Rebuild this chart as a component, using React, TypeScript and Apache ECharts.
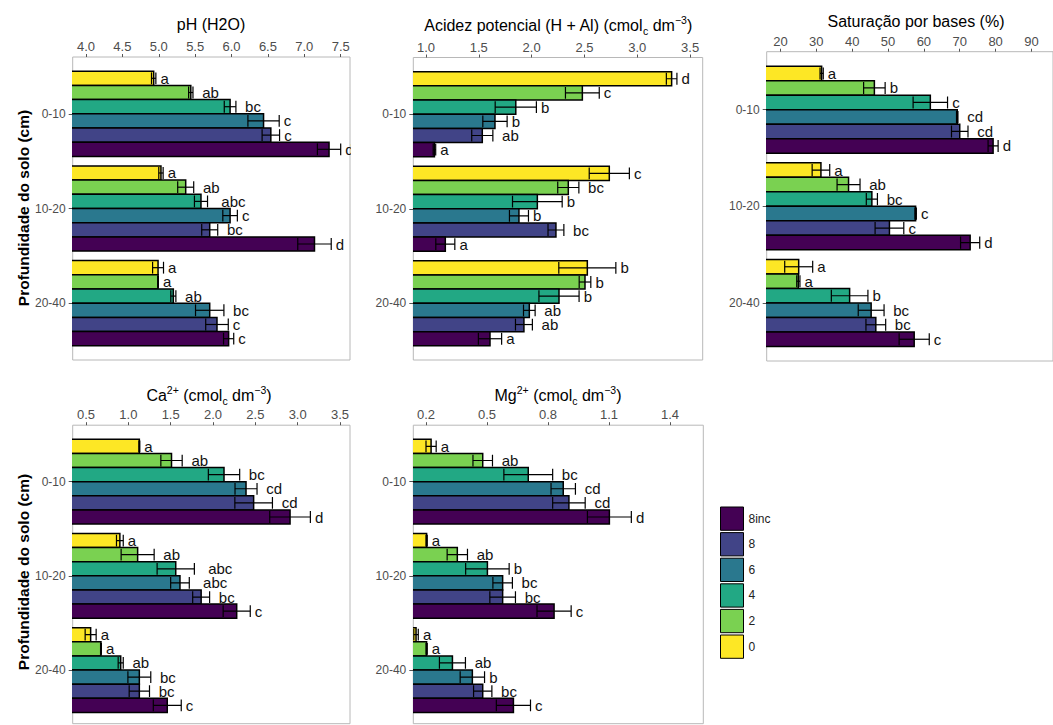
import React, { useEffect, useRef } from 'react';
import * as echarts from 'echarts';

const FONT = '"Liberation Sans", Arial, Helvetica, sans-serif';

// Soil depth layers (rows) and lime treatments (columns, top to bottom inside a group)
const DEPTHS = ['0-10', '10-20', '20-40'];
const TREATMENTS = ['0', '2', '4', '6', '8', '8inc'];
const TREATMENT_COLORS = ['#FDE725', '#7AD151', '#22A884', '#2A788E', '#414487', '#440154'];
const LEGEND_ORDER = ['8inc', '8', '6', '4', '2', '0'];

// pH (H2O)
const phMean = [
  [4.93, 5.44, 5.98, 6.44, 6.54, 7.34],
  [5.03, 5.37, 5.58, 5.98, 5.70, 7.14],
  [4.99, 4.99, 5.20, 5.70, 5.80, 5.96],
];
const phSe = [
  [0.03, 0.03, 0.08, 0.215, 0.12, 0.16],
  [0.03, 0.11, 0.09, 0.10, 0.11, 0.23],
  [0.075, 0.005, 0.035, 0.195, 0.155, 0.07],
];
const phLetters = [
  ['a', 'ab', 'bc', 'c', 'c', 'd'],
  ['a', 'ab', 'abc', 'c', 'bc', 'd'],
  ['a', 'a', 'ab', 'bc', 'c', 'c'],
];
const phTicks = [4.0, 4.5, 5.0, 5.5, 6.0, 6.5, 7.0, 7.5];

// Acidez potencial (H + Al), cmolc dm-3
const halMean = [
  [3.325, 2.48, 1.85, 1.653, 1.533, 1.08],
  [2.735, 2.347, 2.054, 1.88, 2.23, 1.183],
  [2.527, 2.505, 2.259, 1.978, 1.927, 1.606],
];
const halSe = [
  [0.05, 0.16, 0.195, 0.115, 0.1, 0.012],
  [0.19, 0.1, 0.235, 0.09, 0.075, 0.09],
  [0.27, 0.055, 0.19, 0.055, 0.08, 0.11],
];
const halLetters = [
  ['d', 'c', 'b', 'b', 'ab', 'a'],
  ['c', 'bc', 'b', 'b', 'bc', 'a'],
  ['b', 'b', 'b', 'ab', 'ab', 'a'],
];
const halTicks = [1.0, 1.5, 2.0, 2.5, 3.0, 3.5];

// Saturação por bases (%)
const vMean = [
  [31.5, 46.2, 61.8, 69.3, 70.0, 79.3],
  [31.3, 39.0, 45.5, 57.7, 50.4, 72.9],
  [25.1, 25.0, 39.3, 45.3, 46.6, 57.3],
];
const vSe = [
  [0.45, 3.0, 4.8, 0.2, 2.3, 1.4],
  [2.45, 3.2, 1.55, 0.2, 4.0, 2.67],
  [3.9, 0.45, 5.1, 3.6, 2.75, 4.2],
];
const vLetters = [
  ['a', 'b', 'c', 'cd', 'cd', 'd'],
  ['a', 'ab', 'bc', 'c', 'c', 'd'],
  ['a', 'a', 'b', 'bc', 'bc', 'c'],
];
const vTicks = [20, 30, 40, 50, 60, 70, 80, 90];

// Ca2+, cmolc dm-3
const caMean = [
  [1.13, 1.51, 2.13, 2.39, 2.48, 2.91],
  [0.90, 1.11, 1.56, 1.61, 1.86, 2.28],
  [0.555, 0.677, 0.91, 1.13, 1.13, 1.46],
];
const caSe = [
  [0.005, 0.126, 0.185, 0.13, 0.222, 0.24],
  [0.04, 0.195, 0.22, 0.11, 0.1, 0.16],
  [0.065, 0.005, 0.03, 0.135, 0.12, 0.165],
];
const caLetters = [
  ['a', 'ab', 'bc', 'cd', 'cd', 'd'],
  ['a', 'ab', 'abc', 'abc', 'bc', 'c'],
  ['a', 'a', 'ab', 'bc', 'bc', 'c'],
];
const caTicks = [0.5, 1.0, 1.5, 2.0, 2.5, 3.0, 3.5];

// Mg2+, cmolc dm-3
const mgMean = [
  [0.225, 0.479, 0.703, 0.875, 0.903, 1.102],
  [0.203, 0.354, 0.502, 0.577, 0.577, 0.83],
  [0.151, 0.203, 0.33, 0.428, 0.479, 0.63],
];
const mgSe = [
  [0.025, 0.048, 0.12, 0.06, 0.08, 0.108],
  [0.003, 0.05, 0.107, 0.048, 0.063, 0.084],
  [0.011, 0.003, 0.064, 0.06, 0.045, 0.084],
];
const mgLetters = [
  ['a', 'ab', 'bc', 'cd', 'cd', 'd'],
  ['a', 'ab', 'b', 'bc', 'bc', 'c'],
  ['a', 'a', 'ab', 'b', 'bc', 'c'],
];
const mgTicks = [0.2, 0.5, 0.8, 1.1, 1.4];

type Panel = {
  title: string;
  titleX: number;
  titleY: number;
  left: number;
  top: number;
  right: number;
  bottom: number;
  xMin: number;
  xMax: number;
  yMax: number;
  ticks: number[];
  decimals: number;
  mean: number[][];
  se: number[][];
  letters: string[][];
};

const PANELS: Panel[] = [
  {
    title: 'pH (H2O)', titleX: 211, titleY: 24.5,
    left: 72.7, top: 57, right: 350, bottom: 360,
    xMin: 3.817, xMax: 7.628, yMax: 3.6, ticks: phTicks, decimals: 1,
    mean: phMean, se: phSe, letters: phLetters,
  },
  {
    title: 'Acidez potencial (H + Al) (cmol{sub|c} dm{sup|\u22123})', titleX: 558, titleY: 25,
    left: 413.3, top: 57.5, right: 702.7, bottom: 360,
    xMin: 0.88, xMax: 3.619, yMax: 3.6, ticks: halTicks, decimals: 1,
    mean: halMean, se: halSe, letters: halLetters,
  },
  {
    title: 'Saturação por bases (%)', titleX: 916, titleY: 21.5,
    left: 766.7, top: 51.7, right: 1066, bottom: 361,
    xMin: 16.18, xMax: 96.0, yMax: 3.6, ticks: vTicks, decimals: 0,
    mean: vMean, se: vSe, letters: vLetters,
  },
  {
    title: 'Ca{sup|2+} (cmol{sub|c} dm{sup|\u22123})', titleX: 209, titleY: 395,
    left: 72.7, top: 425.2, right: 350, bottom: 723.7,
    xMin: 0.343, xMax: 3.618, yMax: 3.57, ticks: caTicks, decimals: 1,
    mean: caMean, se: caSe, letters: caLetters,
  },
  {
    title: 'Mg{sup|2+} (cmol{sub|c} dm{sup|\u22123})', titleX: 558, titleY: 395,
    left: 413.3, top: 425.2, right: 703.3, bottom: 723.7,
    xMin: 0.1375, xMax: 1.564, yMax: 3.57, ticks: mgTicks, decimals: 1,
    mean: mgMean, se: mgSe, letters: mgLetters,
  },
];

const DODGE = 0.9;
const BAR_UNITS = DODGE / TREATMENTS.length;
const CAP_UNITS = 0.125;

function buildOption() {
  const grid: any[] = [];
  const xAxis: any[] = [];
  const yAxis: any[] = [];
  const series: any[] = [];
  const graphic: any[] = [];

  PANELS.forEach((p, pi) => {
    grid.push({
      left: p.left,
      top: p.top,
      width: p.right - p.left,
      height: p.bottom - p.top,
      show: true,
      borderColor: '#b8b8b8',
      borderWidth: 1,
      backgroundColor: '#ffffff',
    });
    xAxis.push({
      type: 'value',
      gridIndex: pi,
      position: 'top',
      min: p.xMin,
      max: p.xMax,
      axisLine: { show: false },
      splitLine: { show: false },
      axisTick: { show: true, customValues: p.ticks, length: 3, lineStyle: { color: '#555', width: 1 } },
      axisLabel: {
        customValues: p.ticks,
        formatter: (v: number) => v.toFixed(p.decimals),
        margin: 4,
        color: '#4d4d4d',
        fontSize: 13,
        fontFamily: FONT,
      },
    });
    yAxis.push({
      type: 'value',
      gridIndex: pi,
      inverse: true,
      min: 0.4,
      max: p.yMax,
      axisLine: { show: false },
      splitLine: { show: false },
      axisTick: { show: true, customValues: [1, 2, 3], length: 4, lineStyle: { color: '#555', width: 1 } },
      axisLabel: {
        customValues: [1, 2, 3],
        formatter: (v: number) => DEPTHS[Math.round(v) - 1] ?? '',
        margin: 7,
        color: '#4d4d4d',
        fontSize: 12,
        fontFamily: FONT,
      },
    });

    TREATMENTS.forEach((t, k) => {
      series.push({
        type: 'custom',
        name: t,
        xAxisIndex: pi,
        yAxisIndex: pi,
        clip: true,
        itemStyle: { color: TREATMENT_COLORS[k] },
        encode: { x: 1, y: 0 },
        data: DEPTHS.map((_, d) => [d + 1, p.mean[d][k], p.se[d][k]]),
        renderItem: (params: any, api: any) => {
          const d = params.dataIndex;
          const depth = api.value(0);
          const m = api.value(1);
          const s = api.value(2);
          const yc = depth - DODGE / 2 + BAR_UNITS * (k + 0.5);
          const cs = params.coordSys;
          const pt = api.coord([m, yc]);
          const xm = pt[0];
          const ym = pt[1];
          const h = Math.abs(api.size([0, BAR_UNITS])[1]);
          const capH = Math.abs(api.size([0, CAP_UNITS])[1]);
          const xl = api.coord([m - s, yc])[0];
          const xr = api.coord([m + s, yc])[0];
          const letter = p.letters[d][k];
          const lineStyle = { stroke: '#000', lineWidth: 1.2 };
          return {
            type: 'group',
            children: [
              {
                type: 'rect',
                shape: { x: cs.x - 2, y: ym - h / 2, width: xm - cs.x + 2, height: h },
                style: { fill: TREATMENT_COLORS[k], stroke: '#000', lineWidth: 1.5 },
              },
              { type: 'line', shape: { x1: xl, y1: ym, x2: xr, y2: ym }, style: lineStyle },
              { type: 'line', shape: { x1: xl, y1: ym - capH / 2, x2: xl, y2: ym + capH / 2 }, style: lineStyle },
              { type: 'line', shape: { x1: xr, y1: ym - capH / 2, x2: xr, y2: ym + capH / 2 }, style: lineStyle },
              {
                type: 'text',
                x: xr + 4.6 * letter.length,
                y: ym,
                style: {
                  text: letter,
                  fill: '#111',
                  fontSize: 15,
                  lineHeight: 13,
                  fontFamily: FONT,
                  align: 'left',
                  verticalAlign: 'middle',
                },
              },
            ],
          };
        },
      });
    });

    graphic.push({
      type: 'text',
      x: p.titleX,
      y: p.titleY,
      style: {
        text: p.title,
        fill: '#000',
        fontSize: 16,
        fontFamily: FONT,
        lineHeight: 22,
        align: 'center',
        verticalAlign: 'middle',
        rich: {
          sup: { fontSize: 10.5, lineHeight: 10, verticalAlign: 'top', fill: '#000', fontFamily: FONT },
          sub: { fontSize: 10.5, lineHeight: 10, verticalAlign: 'bottom', fill: '#000', fontFamily: FONT },
        },
      },
    });
  });

  // Shared y-axis titles for each row
  [208, 572].forEach((yc) => {
    graphic.push({
      type: 'text',
      x: 23,
      y: yc,
      rotation: Math.PI / 2,
      style: {
        text: 'Profundidade do solo (cm)',
        fill: '#000',
        fontSize: 15.5,
        fontWeight: 'bold',
        fontFamily: FONT,
        align: 'center',
        verticalAlign: 'middle',
      },
    });
  });

  return {
    animation: false,
    backgroundColor: '#ffffff',
    grid,
    xAxis,
    yAxis,
    series,
    graphic,
    legend: {
      orient: 'vertical',
      left: 715,
      top: 501.5,
      itemWidth: 23,
      itemHeight: 23.3,
      itemGap: 1.3,
      icon: 'rect',
      selectedMode: false,
      data: LEGEND_ORDER,
      itemStyle: { borderColor: '#000', borderWidth: 1 },
      textStyle: { fontSize: 12, color: '#222', fontFamily: FONT },
    },
  };
}

export default function App() {
  const ref = useRef<HTMLDivElement>(null);
  useEffect(() => {
    if (!ref.current) return;
    const chart = echarts.init(ref.current, undefined, { renderer: 'svg' });
    chart.setOption(buildOption() as any);
    return () => chart.dispose();
  }, []);
  return (
    <div
      ref={ref}
      style={{ position: 'absolute', left: 0, top: 0, width: 1053, height: 725, background: '#fff' }}
    />
  );
}
